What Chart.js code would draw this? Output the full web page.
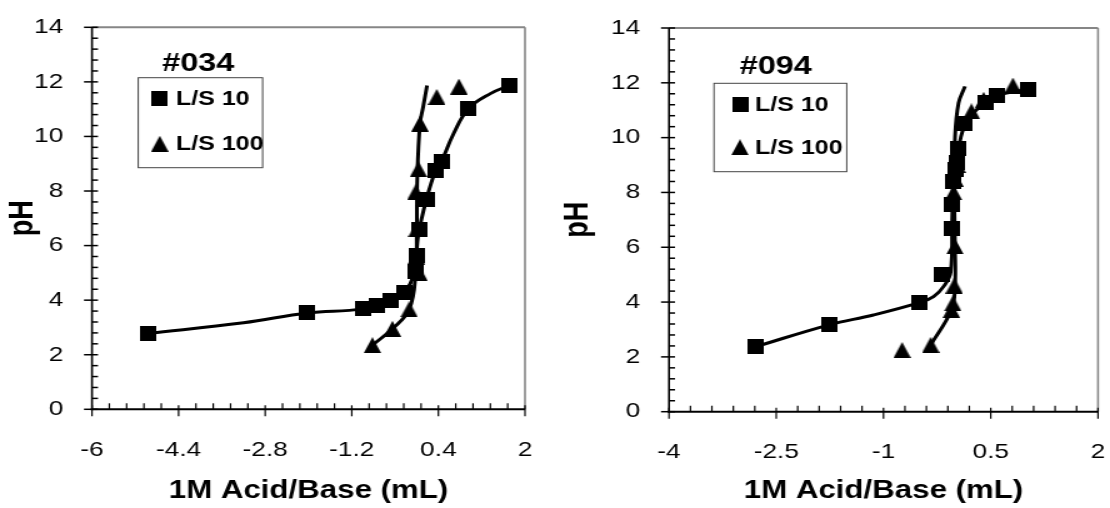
<!DOCTYPE html>
<html>
<head>
<meta charset="utf-8">
<script src="https://cdn.jsdelivr.net/npm/chart.js@4.4.0/dist/chart.umd.min.js"></script>
<style>
  html, body { margin: 0; padding: 0; background: #fff; }
  #wrap { position: relative; width: 1110px; height: 508px; overflow: hidden; }
  /* the original picture is stretched sideways, so each panel is too */
  .panel { position: absolute; top: 0; width: 444px; height: 508px; transform: scaleX(1.25); transform-origin: 0 0; }
  #p034 { left: 0; }
  #p094 { left: 555px; }
</style>
</head>
<body>
<div id="wrap">
  <div class="panel" id="p034"><canvas id="c034" width="444" height="508"></canvas></div>
  <div class="panel" id="p094"><canvas id="c094" width="444" height="508"></canvas></div>
</div>
<script>
// shared axis
const yTicks = [0, 2, 4, 6, 8, 10, 12, 14];
const seriesNames = ['L/S 10', 'L/S 100'];

// sample #034
const xTicks034 = [-6, -4.4, -2.8, -1.2, 0.4, 2];
const sq10X034 = [-4.97, -2.02, -1.00, -0.74, -0.49, -0.24, -0.03, 0.01, 0.04, 0.18, 0.35, 0.46, 0.96, 1.71];
const sq10Y034 = [2.78, 3.53, 3.68, 3.82, 3.98, 4.29, 5.05, 5.62, 6.6, 7.7, 8.76, 9.1, 11.03, 11.87];
const tri100X034 = [-0.82, -0.45, -0.14, 0.04, -0.01, 0.0, -0.02, 0.03, 0.06, 0.37, 0.78];
const tri100Y034 = [2.35, 2.95, 3.66, 5.0, 5.6, 6.6, 7.96, 8.8, 10.47, 11.45, 11.83];
// hand-drawn trend curves
const curve10X034 = [-4.97, -3.2, -2.02, -1.0, -0.49, -0.22, -0.05, 0.03, 0.18, 0.35, 0.46, 0.68, 0.96, 1.36, 1.71];
const curve10Y034 = [2.78, 3.17, 3.53, 3.68, 3.98, 4.3, 5.0, 6.4, 7.7, 8.76, 9.1, 10.1, 11.03, 11.57, 11.87];
const curve100X034 = [-0.82, -0.45, -0.14, -0.02, 0.0, 0.01, 0.06, 0.12, 0.19];
const curve100Y034 = [2.35, 2.95, 3.66, 5.0, 6.6, 8.5, 10.47, 11.1, 11.87];

// sample #094
const xTicks094 = [-4, -2.5, -1, 0.5, 2];
const sq10X094 = [-2.79, -1.76, -0.50, -0.19, -0.05, -0.05, -0.03, 0.0, 0.02, 0.05, 0.13, 0.43, 0.58, 1.03];
const sq10Y094 = [2.37, 3.17, 3.98, 5.02, 6.7, 7.55, 8.4, 8.85, 9.1, 9.6, 10.5, 11.28, 11.52, 11.77];
const tri100X094 = [-0.74, -0.34, -0.05, -0.03, -0.01, 0.0, -0.02, 0.0, 0.03, 0.23, 0.40, 0.81];
const tri100Y094 = [2.25, 2.44, 3.71, 3.95, 4.6, 6.03, 8.0, 8.5, 9.0, 10.96, 11.38, 11.9];
const curve10X094 = [-2.79, -1.76, -1.14, -0.50, -0.30, -0.15, -0.06, -0.04, -0.02, 0.05, 0.15, 0.42, 0.6, 1.03];
const curve10Y094 = [2.37, 3.17, 3.53, 3.98, 4.2, 4.6, 5.1, 7.0, 8.5, 9.6, 10.5, 11.3, 11.55, 11.77];
const curve100X094 = [-0.34, -0.05, 0.0, 0.0, -0.01, 0.0, 0.05, 0.14];
const curve100Y094 = [2.44, 3.71, 4.6, 6.0, 8.0, 10.0, 11.26, 11.87];

const S = 1.25; // horizontal stretch
const FONT = '"Liberation Sans", Arial, sans-serif';
Chart.defaults.font.family = FONT;
Chart.defaults.color = '#000';

const toPts = (xs, ys) => xs.map((x, i) => ({ x, y: ys[i] }));

function marker(kind, w, h) {
  const c = document.createElement('canvas');
  c.width = w; c.height = h;
  const g = c.getContext('2d');
  g.fillStyle = '#000';
  if (kind === 'square') {
    g.fillRect(0, 0, w, h);
  } else {
    g.beginPath(); g.moveTo(w / 2, 0); g.lineTo(w, h); g.lineTo(0, h); g.closePath(); g.fill();
  }
  return c;
}
const squareImg = marker('square', 13, 15);
const triangleImg = marker('triangle', 14, 16);

// plot box, axes and tick marks (major ticks cross the axis, minor ones sit inside)
const framePlugin = {
  id: 'frame',
  beforeDatasetsDraw(chart, args, opts) {
    const { ctx, chartArea: a, scales: { x, y } } = chart;
    ctx.save();
    ctx.strokeStyle = '#868686';
    ctx.lineWidth = 2;
    ctx.beginPath(); ctx.moveTo(a.left, a.top); ctx.lineTo(a.right, a.top); ctx.stroke();
    ctx.lineWidth = 2 / S;
    ctx.beginPath(); ctx.moveTo(a.right, a.top); ctx.lineTo(a.right, a.bottom); ctx.stroke();

    ctx.strokeStyle = '#000';
    ctx.lineWidth = 2 / S;
    ctx.beginPath(); ctx.moveTo(a.left, a.top); ctx.lineTo(a.left, a.bottom + 1); ctx.stroke();
    ctx.lineWidth = 2;
    ctx.beginPath(); ctx.moveTo(a.left - 1, a.bottom); ctx.lineTo(a.right, a.bottom); ctx.stroke();

    // y ticks
    ctx.lineWidth = 1.5;
    let n = Math.round((y.max - y.min) / opts.yMinor);
    for (let i = 0; i <= n; i++) {
      const py = y.getPixelForValue(y.min + i * opts.yMinor);
      const major = i % 5 === 0;
      ctx.beginPath();
      ctx.moveTo(a.left - (major ? 8 / S : 0), py);
      ctx.lineTo(a.left + 6 / S, py);
      ctx.stroke();
    }
    // x ticks
    ctx.lineWidth = 1.5 / S;
    n = Math.round((x.max - x.min) / opts.xMinor);
    for (let i = 0; i <= n; i++) {
      const px = x.getPixelForValue(x.min + i * opts.xMinor);
      const major = i % 5 === 0;
      ctx.beginPath();
      ctx.moveTo(px, a.bottom - (major ? 4 : 6));
      ctx.lineTo(px, a.bottom + (major ? 7 : 0));
      ctx.stroke();
    }
    ctx.restore();
  }
};

// sample name and key box inside the plot
const keyPlugin = {
  id: 'key',
  afterDraw(chart, args, opts) {
    const { ctx } = chart;
    const [bx, by, bw, bh] = opts.box;
    ctx.save();
    ctx.fillStyle = '#000';
    ctx.textBaseline = 'middle';
    ctx.textAlign = 'center';
    ctx.font = 'bold 26px ' + FONT;
    ctx.fillText(opts.title, opts.titleX, opts.titleY);

    ctx.fillStyle = '#fff';
    ctx.fillRect(bx, by, bw, bh);
    ctx.strokeStyle = '#444';
    ctx.lineWidth = 1;
    ctx.strokeRect(bx, by, bw, bh);

    ctx.fillStyle = '#000';
    ctx.textAlign = 'left';
    ctx.font = 'bold 20px ' + FONT;
    chart.data.datasets.filter(d => d.label).forEach((d, i) => {
      const cy = by + opts.rows[i];
      const img = d.pointStyle;
      ctx.drawImage(img, bx + opts.markX - img.width / 2, cy - img.height / 2);
      ctx.fillText(d.label, bx + opts.textX, cy + 1);
    });
    ctx.restore();
  }
};

function makeChart(id, c) {
  const pointSet = (label, xs, ys, img) => ({
    label, data: toPts(xs, ys), pointStyle: img, pointRadius: 7,
    backgroundColor: '#000', borderColor: '#000', showLine: false
  });
  const lineSet = (xs, ys) => ({
    data: toPts(xs, ys), showLine: true, pointRadius: 0,
    borderColor: '#000', borderWidth: 3, tension: 0.4, fill: false
  });
  return new Chart(document.getElementById(id), {
    type: 'scatter',
    data: {
      datasets: [
        pointSet(seriesNames[0], c.sqX, c.sqY, squareImg),
        pointSet(seriesNames[1], c.triX, c.triY, triangleImg),
        lineSet(c.c10X, c.c10Y),
        lineSet(c.c100X, c.c100Y)
      ]
    },
    options: {
      responsive: false,
      animation: false,
      devicePixelRatio: 1,
      layout: { padding: { left: 0, right: c.padRight, top: c.top, bottom: 0 } },
      plugins: {
        legend: { display: false },
        tooltip: { enabled: false },
        frame: { xMinor: c.xMinor, yMinor: 0.4 },
        key: c.key
      },
      scales: {
        x: {
          type: 'linear', min: c.xTicks[0], max: c.xTicks[c.xTicks.length - 1],
          afterBuildTicks: s => { s.ticks = c.xTicks.map(v => ({ value: v })); },
          afterFit: s => { s.height = c.xHeight; s.paddingLeft = 0; s.paddingRight = 0; },
          grid: { display: false, drawTicks: false }, border: { display: false },
          ticks: { font: { size: 21 }, padding: 28, maxRotation: 0, callback: v => String(v) },
          title: { display: true, text: '1M Acid/Base (mL)', font: { size: 25, weight: 'bold' }, padding: { top: 0, bottom: 2 } }
        },
        y: {
          type: 'linear', min: 0, max: 14,
          afterBuildTicks: s => { s.ticks = yTicks.map(v => ({ value: v })); },
          afterFit: s => { s.width = c.yWidth; s.paddingTop = 0; s.paddingBottom = 0; },
          grid: { display: false, drawTicks: false }, border: { display: false },
          ticks: { font: { size: 21 }, padding: 23 },
          title: { display: true, text: 'pH', font: { size: 27, weight: 'bold' }, padding: { top: 2, bottom: 0 } }
        }
      }
    },
    plugins: [framePlugin, keyPlugin]
  });
}

makeChart('c034', {
  xTicks: xTicks034, xMinor: 0.32,
  sqX: sq10X034, sqY: sq10Y034, triX: tri100X034, triY: tri100Y034,
  c10X: curve10X034, c10Y: curve10Y034, c100X: curve100X034, c100Y: curve100Y034,
  yWidth: 73.6, xHeight: 98.7, top: 27.3, padRight: 24,
  key: { title: '#034', titleX: 158.6, titleY: 64, box: [110.6, 77.7, 99.5, 90], rows: [21, 66], markX: 17.2, textX: 30.2 }
});

makeChart('c094', {
  xTicks: xTicks094, xMinor: 0.3,
  sqX: sq10X094, sqY: sq10Y094, triX: tri100X094, triY: tri100Y094,
  c10X: curve10X094, c10Y: curve10Y094, c100X: curve100X094, c100Y: curve100Y094,
  yWidth: 91.2, xHeight: 96.3, top: 28, padRight: 9.6,
  key: { title: '#094', titleX: 176.6, titleY: 67, box: [127.2, 83.3, 106.2, 88.4], rows: [21, 64], markX: 20.8, textX: 32.8 }
});
</script>
</body>
</html>
